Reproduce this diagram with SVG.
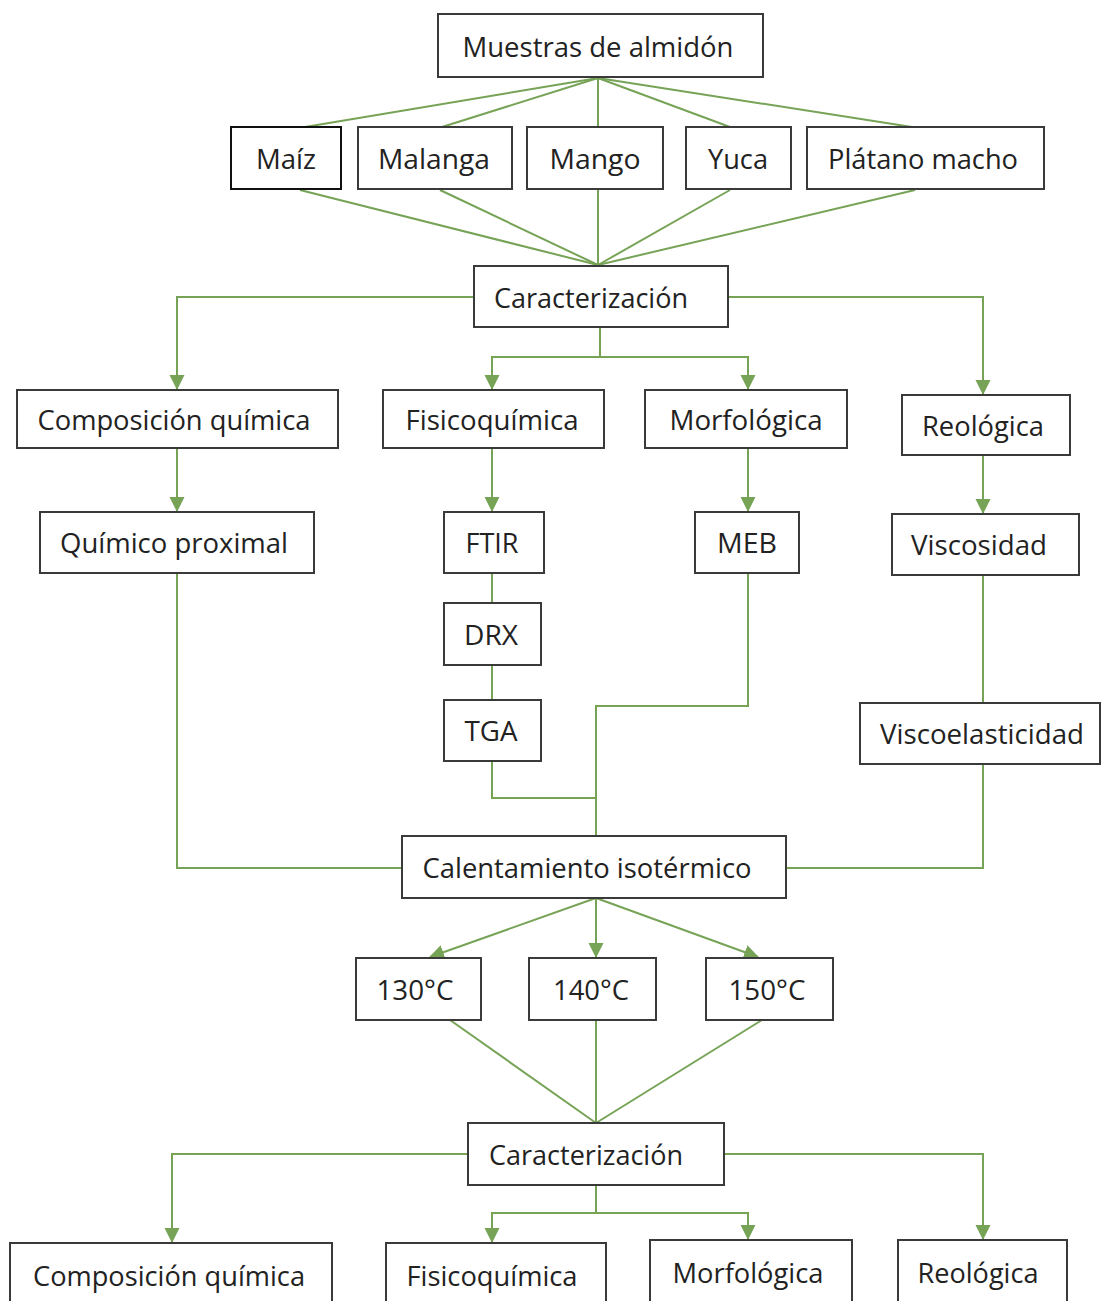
<svg xmlns="http://www.w3.org/2000/svg" width="1101" height="1301" viewBox="0 0 1101 1301">
<style>
.b{fill:#fff;stroke:#3a3a3a;stroke-width:2}
.t{font-family:"Open Sans","Liberation Sans",sans-serif;font-size:28px;fill:#222;text-anchor:middle}
.c{fill:none;stroke:#76a356;stroke-width:2}
</style>
<defs>
<marker id="ad" markerUnits="userSpaceOnUse" markerWidth="16" markerHeight="16" refX="14" refY="7.5" orient="auto" viewBox="0 0 16 15">
<path d="M0,0 L15,7.5 L0,15 Z" fill="#76a356"/>
</marker>
</defs>
<rect width="1101" height="1301" fill="#fff"/>
<g id="connectors">
<line class="c" x1="598" y1="78" x2="305" y2="127"/>
<line class="c" x1="598" y1="78" x2="442" y2="127"/>
<line class="c" x1="598" y1="78" x2="598" y2="127"/>
<line class="c" x1="598" y1="78" x2="730" y2="127"/>
<line class="c" x1="598" y1="78" x2="912" y2="127"/>
<line class="c" x1="300" y1="190" x2="598" y2="265"/>
<line class="c" x1="440" y1="190" x2="598" y2="265"/>
<line class="c" x1="598" y1="190" x2="598" y2="265"/>
<line class="c" x1="730" y1="190" x2="598" y2="265"/>
<line class="c" x1="915" y1="190" x2="598" y2="265"/>
<path class="c" d="M474,297 H177 V389" marker-end="url(#ad)"/>
<path class="c" d="M728,297 H983 V394" marker-end="url(#ad)"/>
<path class="c" d="M600,327 V357"/>
<path class="c" d="M600,357 H492 V389" marker-end="url(#ad)"/>
<path class="c" d="M600,357 H748 V389" marker-end="url(#ad)"/>
<path class="c" d="M177,448 V511" marker-end="url(#ad)"/>
<path class="c" d="M492,448 V511" marker-end="url(#ad)"/>
<path class="c" d="M748,448 V511" marker-end="url(#ad)"/>
<path class="c" d="M983,455 V513" marker-end="url(#ad)"/>
<path class="c" d="M492,573 V603"/>
<path class="c" d="M492,665 V700"/>
<path class="c" d="M983,575 V703"/>
<path class="c" d="M177,573 V868 H402"/>
<path class="c" d="M492,761 V798 H596"/>
<path class="c" d="M748,573 V706 H596 V836"/>
<path class="c" d="M983,764 V868 H786"/>
<line class="c" x1="596" y1="898" x2="430" y2="957" marker-end="url(#ad)"/>
<line class="c" x1="596" y1="898" x2="596" y2="957" marker-end="url(#ad)"/>
<line class="c" x1="596" y1="898" x2="758" y2="957" marker-end="url(#ad)"/>
<line class="c" x1="450" y1="1020" x2="596" y2="1123"/>
<line class="c" x1="596" y1="1020" x2="596" y2="1123"/>
<line class="c" x1="762" y1="1020" x2="596" y2="1123"/>
<path class="c" d="M468,1154 H172 V1242" marker-end="url(#ad)"/>
<path class="c" d="M724,1154 H983 V1239" marker-end="url(#ad)"/>
<path class="c" d="M596,1185 V1213"/>
<path class="c" d="M596,1213 H492 V1242" marker-end="url(#ad)"/>
<path class="c" d="M596,1213 H748 V1239" marker-end="url(#ad)"/>
</g>
<g id="n-muestras"><rect class="b" x="438" y="14" width="325" height="63"/><text class="t" x="598" y="57" textLength="271" lengthAdjust="spacingAndGlyphs">Muestras de almidón</text></g>
<g id="n-maiz"><rect class="b" x="231" y="127" width="110" height="62" style="stroke:#111"/><text class="t" x="286" y="169" textLength="60" lengthAdjust="spacingAndGlyphs">Maíz</text></g>
<g id="n-malanga"><rect class="b" x="358" y="127" width="154" height="62"/><text class="t" x="434" y="169" textLength="112" lengthAdjust="spacingAndGlyphs">Malanga</text></g>
<g id="n-mango"><rect class="b" x="527" y="127" width="136" height="62"/><text class="t" x="595" y="169" textLength="91" lengthAdjust="spacingAndGlyphs">Mango</text></g>
<g id="n-yuca"><rect class="b" x="686" y="127" width="105" height="62"/><text class="t" x="738" y="169" textLength="60" lengthAdjust="spacingAndGlyphs">Yuca</text></g>
<g id="n-platano"><rect class="b" x="807" y="127" width="237" height="62"/><text class="t" x="923" y="169" textLength="190" lengthAdjust="spacingAndGlyphs">Plátano macho</text></g>
<g id="n-caract1"><rect class="b" x="474" y="266" width="254" height="61"/><text class="t" x="591" y="308" textLength="194" lengthAdjust="spacingAndGlyphs">Caracterización</text></g>
<g id="n-comp1"><rect class="b" x="17" y="390" width="321" height="58"/><text class="t" x="174" y="430" textLength="273" lengthAdjust="spacingAndGlyphs">Composición química</text></g>
<g id="n-fisico1"><rect class="b" x="383" y="390" width="221" height="58"/><text class="t" x="492" y="430" textLength="173" lengthAdjust="spacingAndGlyphs">Fisicoquímica</text></g>
<g id="n-morfo1"><rect class="b" x="645" y="390" width="202" height="58"/><text class="t" x="746" y="430" textLength="153" lengthAdjust="spacingAndGlyphs">Morfológica</text></g>
<g id="n-reo1"><rect class="b" x="902" y="395" width="168" height="60"/><text class="t" x="983" y="436" textLength="122" lengthAdjust="spacingAndGlyphs">Reológica</text></g>
<g id="n-quimprox"><rect class="b" x="40" y="512" width="274" height="61"/><text class="t" x="174" y="553" textLength="228" lengthAdjust="spacingAndGlyphs">Químico proximal</text></g>
<g id="n-ftir"><rect class="b" x="444" y="512" width="100" height="61"/><text class="t" x="492" y="553" textLength="53" lengthAdjust="spacingAndGlyphs">FTIR</text></g>
<g id="n-meb"><rect class="b" x="695" y="512" width="104" height="61"/><text class="t" x="747" y="553" textLength="60" lengthAdjust="spacingAndGlyphs">MEB</text></g>
<g id="n-visco"><rect class="b" x="892" y="514" width="187" height="61"/><text class="t" x="979" y="555" textLength="136" lengthAdjust="spacingAndGlyphs">Viscosidad</text></g>
<g id="n-drx"><rect class="b" x="444" y="603" width="97" height="62"/><text class="t" x="491" y="645" textLength="54" lengthAdjust="spacingAndGlyphs">DRX</text></g>
<g id="n-tga"><rect class="b" x="444" y="700" width="97" height="61"/><text class="t" x="491" y="741" textLength="53" lengthAdjust="spacingAndGlyphs">TGA</text></g>
<g id="n-viscoel"><rect class="b" x="860" y="703" width="240" height="61"/><text class="t" x="982" y="744" textLength="204" lengthAdjust="spacingAndGlyphs">Viscoelasticidad</text></g>
<g id="n-calent"><rect class="b" x="402" y="836" width="384" height="62"/><text class="t" x="587" y="878" textLength="329" lengthAdjust="spacingAndGlyphs">Calentamiento isotérmico</text></g>
<g id="n-130"><rect class="b" x="356" y="958" width="125" height="62"/><text class="t" x="415" y="1000" textLength="77" lengthAdjust="spacingAndGlyphs">130°C</text></g>
<g id="n-140"><rect class="b" x="529" y="958" width="127" height="62"/><text class="t" x="591" y="1000" textLength="76" lengthAdjust="spacingAndGlyphs">140°C</text></g>
<g id="n-150"><rect class="b" x="706" y="958" width="127" height="62"/><text class="t" x="767" y="1000" textLength="77" lengthAdjust="spacingAndGlyphs">150°C</text></g>
<g id="n-caract2"><rect class="b" x="468" y="1123" width="256" height="62"/><text class="t" x="586" y="1165" textLength="194" lengthAdjust="spacingAndGlyphs">Caracterización</text></g>
<g id="n-comp2"><rect class="b" x="10" y="1243" width="322" height="70"/><text class="t" x="169" y="1286" textLength="272" lengthAdjust="spacingAndGlyphs">Composición química</text></g>
<g id="n-fisico2"><rect class="b" x="386" y="1243" width="220" height="70"/><text class="t" x="492" y="1286" textLength="171" lengthAdjust="spacingAndGlyphs">Fisicoquímica</text></g>
<g id="n-morfo2"><rect class="b" x="650" y="1240" width="202" height="70"/><text class="t" x="748" y="1283" textLength="151" lengthAdjust="spacingAndGlyphs">Morfológica</text></g>
<g id="n-reo2"><rect class="b" x="898" y="1240" width="169" height="70"/><text class="t" x="978" y="1283" textLength="121" lengthAdjust="spacingAndGlyphs">Reológica</text></g>
</svg>
